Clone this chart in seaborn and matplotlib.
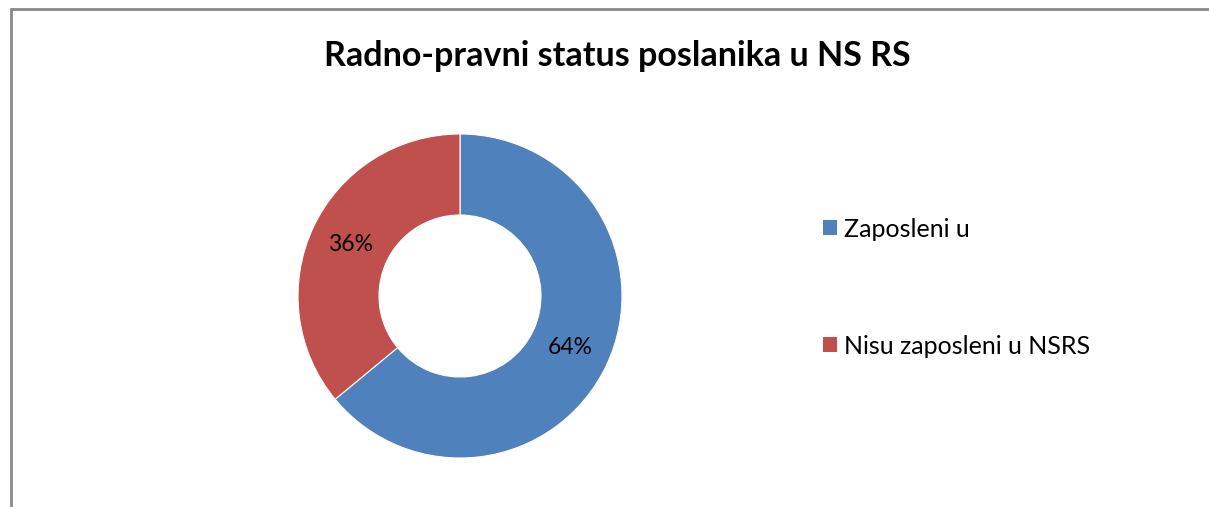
import matplotlib
matplotlib.use("Agg")
import matplotlib.pyplot as plt
import seaborn as sns
from matplotlib.lines import Line2D
from matplotlib.patches import Patch

# data
categories = ["Zaposleni u", "Nisu zaposleni u NSRS"]
shares = [64, 36]
colors = ["#4F81BD", "#C0504D"]
title = "Radno-pravni status poslanika u NS RS"

sns.set_theme(style="white")
plt.rcParams["font.family"] = ["Lato", "DejaVu Sans"]

W, H = 1209, 507
fig = plt.figure(figsize=(W / 100, H / 100), dpi=100)

# donut axis: centre (460, 296), radius 162 px
cx, cy, r = 460, 296, 162
ax = fig.add_axes([(cx - r) / W, (H - cy - r) / H, 2 * r / W, 2 * r / H])
wedges, _, autotexts = ax.pie(
    shares, colors=colors, startangle=90, counterclock=False,
    autopct="%d%%", pctdistance=0.75,
    wedgeprops=dict(width=0.5, edgecolor="white", linewidth=0.8),
    textprops=dict(fontsize=16.5, color="black"),
)
ax.set_xlim(-1, 1)
ax.set_ylim(-1, 1)
ax.set_aspect("equal")
ax.axis("off")

fig.text(617 / W, 1 - 56 / H, title, ha="center", va="center",
         fontsize=24.5, fontweight="bold", color="black")

handles = [Patch(facecolor=c, edgecolor="none") for c in colors]
fig.legend(handles, categories, loc="upper left",
           bbox_to_anchor=(810 / W, 1 - 205 / H), frameon=False,
           fontsize=18, labelcolor="black",
           handlelength=0.56, handleheight=0.56,
           handletextpad=0.32, labelspacing=3.76, borderpad=0)

# chart frame (left and top edges visible)
frame = dict(color="#8a8a8a", linewidth=2, transform=fig.transFigure)
fig.add_artist(Line2D([11 / W, 11 / W], [0, 1 - 9 / H], **frame))
fig.add_artist(Line2D([11 / W, 1], [1 - 9 / H, 1 - 9 / H], **frame))

fig.savefig("out.png", dpi=100)
